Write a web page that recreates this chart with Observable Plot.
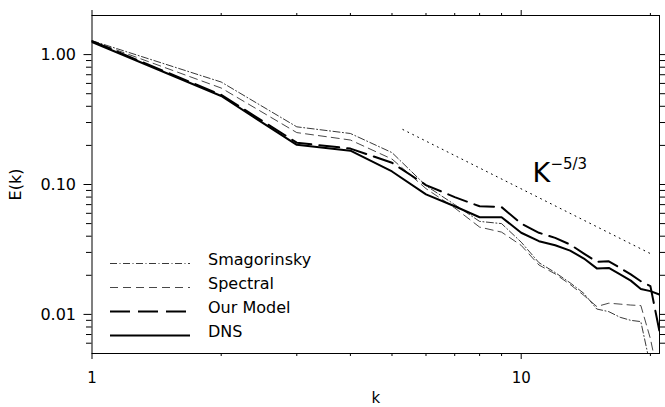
<!DOCTYPE html>
<html>
<head>
<meta charset="utf-8">
<script src="https://cdn.jsdelivr.net/npm/d3@7"></script>
<script src="https://cdn.jsdelivr.net/npm/@observablehq/plot@0.6"></script>
<style>
  body { margin: 0; background: #fff; }
  #chart { width: 665px; height: 407px; }
</style>
</head>
<body>
<div id="chart"></div>
<script>
// ---- data ----
const kValues     = [1, 2, 3, 4, 5, 6, 7, 8, 9, 10, 11, 12, 13, 14, 15, 16, 17, 18, 19, 20, 21];
const smagorinsky = [1.28, 0.615, 0.278, 0.247, 0.176, 0.098, 0.070, 0.052, 0.050, 0.036, 0.025, 0.021, 0.0175, 0.0145, 0.011, 0.0105, 0.0095, 0.009, 0.0088, 0.004, 0.002];
const spectral    = [1.27, 0.553, 0.251, 0.220, 0.157, 0.093, 0.066, 0.047, 0.043, 0.034, 0.024, 0.0205, 0.017, 0.014, 0.0115, 0.0122, 0.012, 0.0118, 0.0117, 0.0065, 0.003];
const ourModel    = [1.27, 0.49, 0.210, 0.189, 0.147, 0.099, 0.080, 0.068, 0.067, 0.050, 0.0425, 0.0388, 0.0345, 0.0294, 0.0254, 0.0256, 0.0228, 0.0203, 0.018, 0.0165, 0.0074];
const dns         = [1.25, 0.48, 0.202, 0.182, 0.126, 0.084, 0.068, 0.056, 0.056, 0.0425, 0.0366, 0.0341, 0.031, 0.0269, 0.0226, 0.0228, 0.0203, 0.0182, 0.0157, 0.0151, 0.0142];
const seriesNames = ["Smagorinsky", "Spectral", "Our Model", "DNS"];

// k^-5/3 reference line end points
const slopeK = [5.3, 20.2];
const slopeE = [0.265, 0.0289];
const slopeLabel = "K";
const slopeExponent = "\u22125/3";
const slopeLabelK = 10.62;
const slopeLabelE = 0.121;

// ticks
const xMajorTicks = [1, 10];
const xMajorLabels = ["1", "10"];
const xMinorTicks = [2, 3, 4, 5, 6, 7, 8, 9, 20];
const yMajorTicks = [0.01, 0.1, 1];
const yMajorLabels = ["0.01", "0.10", "1.00"];
const yMinorTicks = [0.006, 0.007, 0.008, 0.009,
  0.02, 0.03, 0.04, 0.05, 0.06, 0.07, 0.08, 0.09,
  0.2, 0.3, 0.4, 0.5, 0.6, 0.7, 0.8, 0.9];
const xLabel = "k";
const yLabel = "E(k)";

// ---- build tables ----
const seriesValues = [smagorinsky, spectral, ourModel, dns];
const rows = seriesNames.flatMap((name, i) =>
  kValues.map((k, j) => ({ series: name, k, E: seriesValues[i][j] })));
const slopeRows = slopeK.map((k, i) => ({ k, E: slopeE[i] }));

const styles = {
  "Smagorinsky": { stroke: "#222", strokeWidth: 0.9, strokeDasharray: "7,2.5,1,2.5" },
  "Spectral":    { stroke: "#333", strokeWidth: 0.9, strokeDasharray: "8,5" },
  "Our Model":   { stroke: "#000", strokeWidth: 2, strokeDasharray: "20,8" },
  "DNS":         { stroke: "#000", strokeWidth: 2, strokeDasharray: null }
};

const font = "DejaVu Sans";

const lineMarks = seriesNames.map(name =>
  Plot.line(rows.filter(d => d.series === name), {
    x: "k", y: "E", clip: true,
    stroke: styles[name].stroke,
    strokeWidth: styles[name].strokeWidth,
    strokeDasharray: styles[name].strokeDasharray,
    strokeLinejoin: "round"
  }));

const plot = Plot.plot({
  width: 665,
  height: 407,
  marginLeft: 91.5,
  marginRight: 6,
  marginTop: 15,
  marginBottom: 54,
  style: { fontFamily: font, fontSize: "16px", color: "#000", background: "#fff" },
  x: { type: "log", domain: [1, 21] },
  y: { type: "log", domain: [0.005, 2] },
  marks: [
    // axes - bottom
    Plot.axisX({ anchor: "bottom", ticks: xMajorTicks, tickSize: 6, tickPadding: 13,
      tickFormat: d => xMajorLabels[xMajorTicks.indexOf(d)], fontSize: 15,
      label: xLabel, labelAnchor: "center", labelArrow: "none", labelOffset: 49 }),
    Plot.axisX({ anchor: "bottom", ticks: xMinorTicks, tickSize: 3, tickFormat: () => "", label: null }),
    // axes - top
    Plot.axisX({ anchor: "top", ticks: xMajorTicks, tickSize: 6, tickFormat: () => "", label: null }),
    Plot.axisX({ anchor: "top", ticks: xMinorTicks, tickSize: 3, tickFormat: () => "", label: null }),
    // axes - left
    Plot.axisY({ anchor: "left", ticks: yMajorTicks, tickSize: 8, tickPadding: 8,
      tickFormat: d => yMajorLabels[yMajorTicks.indexOf(d)], fontSize: 16,
      label: yLabel, labelAnchor: "center", labelArrow: "none", labelOffset: 82 }),
    Plot.axisY({ anchor: "left", ticks: yMinorTicks, tickSize: 5.5, tickFormat: () => "", label: null }),
    // axes - right
    Plot.axisY({ anchor: "right", ticks: yMajorTicks, tickSize: 8, tickFormat: () => "", label: null }),
    Plot.axisY({ anchor: "right", ticks: yMinorTicks, tickSize: 5.5, tickFormat: () => "", label: null }),
    Plot.frame({ stroke: "#000", strokeWidth: 1 }),
    // reference slope
    Plot.line(slopeRows, { x: "k", y: "E", stroke: "#000", strokeWidth: 1, strokeDasharray: "1,4.5" }),
    Plot.text([slopeLabel], { x: () => slopeLabelK, y: () => slopeLabelE, text: d => d,
      fontSize: 27, textAnchor: "start", lineAnchor: "middle", fill: "#000" }),
    Plot.text([slopeExponent], { x: () => slopeLabelK, y: () => slopeLabelE, text: d => d,
      fontSize: 15, textAnchor: "start", lineAnchor: "middle", dx: 18, dy: -10, fill: "#000" }),
    ...lineMarks
  ]
});

// legend (layout, drawn into the plot's svg)
const svg = d3.select(plot);
const legend = svg.append("g")
  .attr("font-family", font).attr("font-size", 16).attr("text-anchor", "start");
seriesNames.forEach((name, i) => {
  const y = 263.5 + i * 24;
  const st = styles[name];
  legend.append("line")
    .attr("x1", 110).attr("x2", 190).attr("y1", y).attr("y2", y)
    .attr("stroke", st.stroke).attr("stroke-width", st.strokeWidth)
    .attr("stroke-dasharray", st.strokeDasharray);
  legend.append("text")
    .attr("x", 208).attr("y", 265 + i * 24)
    .attr("fill", "#000")
    .attr("text-anchor", "start")
    .text(name);
});

document.getElementById("chart").appendChild(plot);
</script>
</body>
</html>
